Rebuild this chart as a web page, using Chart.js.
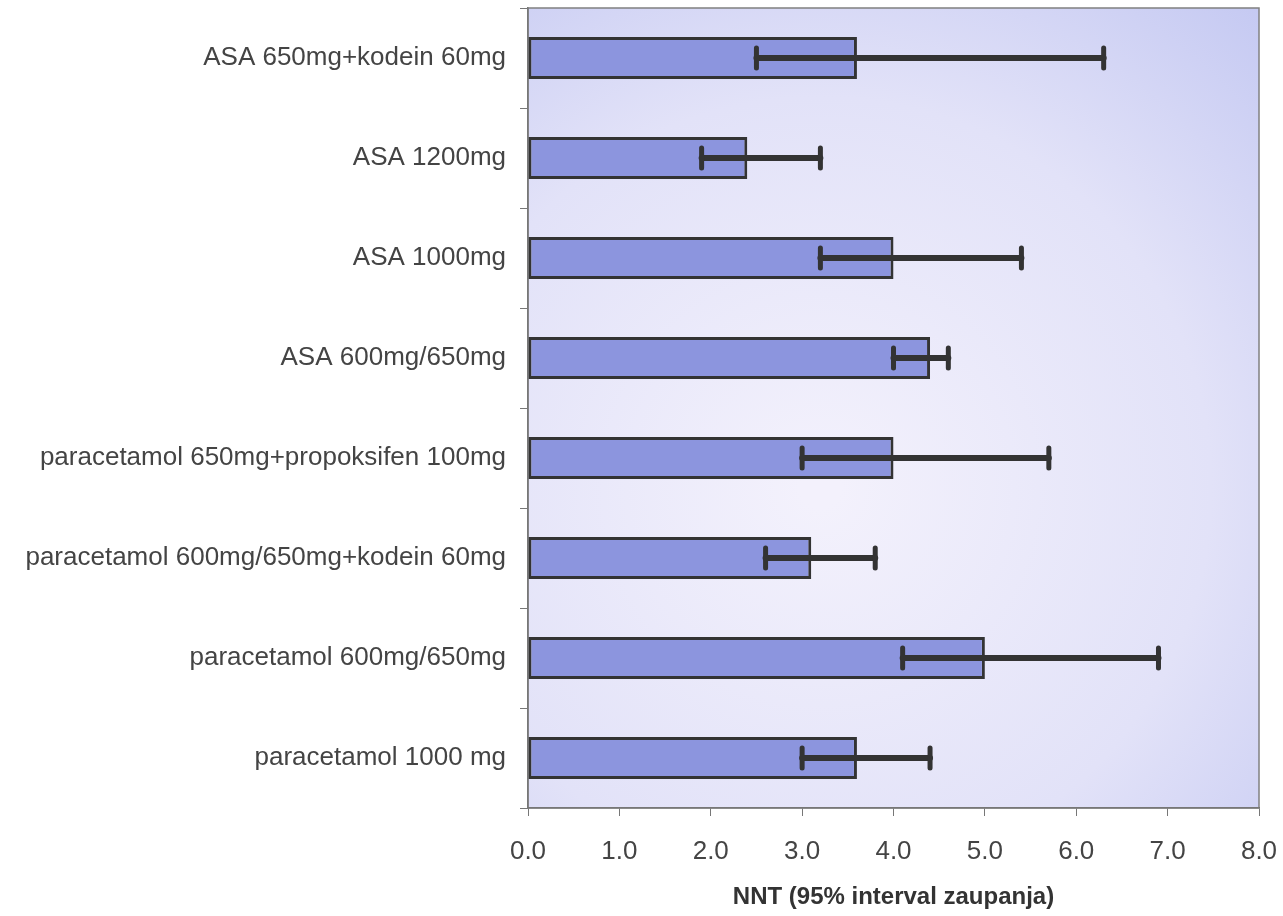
<!DOCTYPE html>
<html>
<head>
<meta charset="utf-8">
<script src="https://cdn.jsdelivr.net/npm/chart.js@4/dist/chart.umd.min.js"></script>
<style>
  html, body { margin: 0; padding: 0; background: #fff; }
  #wrap { width: 1283px; height: 916px; }
</style>
</head>
<body>
<div id="wrap"><canvas id="graph" width="1283" height="916"></canvas></div>
<script>
const labels = [
    'ASA 650mg+kodein 60mg',
    'ASA 1200mg',
    'ASA 1000mg',
    'ASA 600mg/650mg',
    'paracetamol 650mg+propoksifen 100mg',
    'paracetamol 600mg/650mg+kodein 60mg',
    'paracetamol 600mg/650mg',
    'paracetamol 1000 mg'
];
const nnt     = [3.6, 2.4, 4.0, 4.4, 4.0, 3.1, 5.0, 3.6];
const ciLow   = [2.5, 1.9, 3.2, 4.0, 3.0, 2.6, 4.1, 3.0];
const ciHigh  = [6.3, 3.2, 5.4, 4.6, 5.7, 3.8, 6.9, 4.4];
const xTicks  = [0, 1, 2, 3, 4, 5, 6, 7, 8];

// plot background gradient
const plotBackground = {
    id: 'plotBackground',
    beforeDraw(chart) {
        const { ctx, chartArea: a } = chart;
        const g = ctx.createRadialGradient(
            a.left + a.width * 0.4, a.top + a.height * 0.6, 20,
            a.left + a.width * 0.4, a.top + a.height * 0.6, a.width * 0.95);
        g.addColorStop(0, '#f3f1fc');
        g.addColorStop(0.55, '#e2e2f8');
        g.addColorStop(1, '#c0c5f1');
        ctx.save();
        ctx.fillStyle = g;
        ctx.fillRect(a.left, a.top, a.width, a.height);
        ctx.strokeStyle = '#808080';
        ctx.lineWidth = 1.5;
        ctx.strokeRect(a.left, a.top, a.width, a.height);
        ctx.restore();
    }
};

// 95% interval error bars
const errorBars = {
    id: 'errorBars',
    afterDatasetsDraw(chart) {
        const { ctx } = chart;
        const x = chart.scales.x;
        const meta = chart.getDatasetMeta(0);
        ctx.save();
        ctx.strokeStyle = '#333333';
        ctx.lineCap = 'round';
        meta.data.forEach((bar, i) => {
            const y = bar.y;
            const x1 = x.getPixelForValue(ciLow[i]);
            const x2 = x.getPixelForValue(ciHigh[i]);
            ctx.lineWidth = 6;
            ctx.beginPath();
            ctx.moveTo(x1, y);
            ctx.lineTo(x2, y);
            ctx.stroke();
            ctx.lineWidth = 5;
            ctx.beginPath();
            ctx.moveTo(x1, y - 10);
            ctx.lineTo(x1, y + 10);
            ctx.moveTo(x2, y - 10);
            ctx.lineTo(x2, y + 10);
            ctx.stroke();
        });
        ctx.restore();
    }
};

const graph = document.getElementById('graph').getContext('2d');

new Chart(graph, {
    type: 'bar',
    data: {
        labels: labels,
        datasets: [{
            label: 'NNT',
            data: nnt,
            backgroundColor: '#8c95de',
            borderColor: '#333333',
            borderWidth: 3,
            borderSkipped: false,
            barPercentage: 0.42,
            categoryPercentage: 1
        }]
    },
    options: {
        indexAxis: 'y',
        responsive: false,
        animation: false,
        layout: { padding: { top: 8, right: 24, left: 0, bottom: 0 } },
        plugins: {
            legend: { display: false },
            tooltip: { enabled: false }
        },
        scales: {
            x: {
                min: 0,
                max: 8,
                afterBuildTicks(scale) {
                    scale.ticks = xTicks.map(v => ({ value: v }));
                },
                afterFit(scale) {
                    scale.height = 108;
                    scale.paddingLeft = 0;
                    scale.paddingRight = 0;
                },
                grid: {
                    drawOnChartArea: false,
                    drawTicks: true,
                    tickLength: 8,
                    color: '#777777'
                },
                border: { color: '#777777', width: 1.5 },
                ticks: {
                    color: '#444444',
                    font: { family: 'Liberation Sans, Arial', size: 26 },
                    padding: 20,
                    callback: v => Number(v).toFixed(1)
                },
                title: {
                    display: true,
                    text: 'NNT (95% interval zaupanja)',
                    color: '#333333',
                    font: { family: 'Liberation Sans, Arial', size: 24, weight: 'bold' },
                    padding: { top: 14 }
                }
            },
            y: {
                afterFit(scale) {
                    scale.width = 528;
                    scale.paddingTop = 0;
                    scale.paddingBottom = 0;
                },
                grid: {
                    offset: true,
                    drawOnChartArea: false,
                    drawTicks: true,
                    tickLength: 8,
                    color: '#777777'
                },
                border: { color: '#777777', width: 1.5 },
                ticks: {
                    color: '#444444',
                    font: { family: 'Liberation Sans, Arial', size: 26 },
                    padding: 14
                }
            }
        }
    },
    plugins: [plotBackground, errorBars]
});
</script>
</body>
</html>
